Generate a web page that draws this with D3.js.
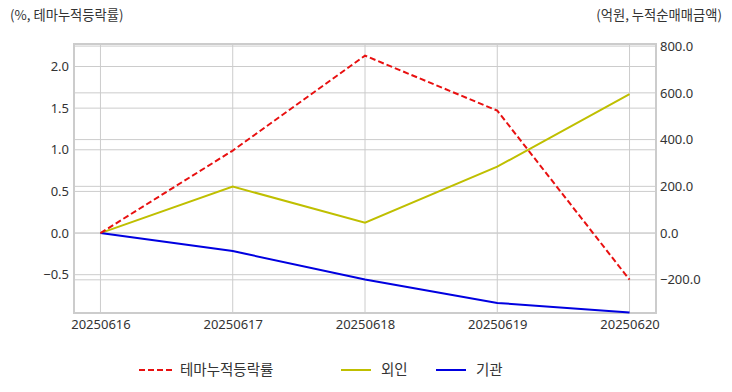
<!DOCTYPE html>
<html><head><meta charset="utf-8">
<script src="https://cdn.jsdelivr.net/npm/d3@7"></script>
<style>
body{margin:0;background:#fff;}
text{font-family:"Noto Sans CJK KR","Noto Sans",sans-serif;}
</style></head>
<body><svg id="c" width="732" height="392"></svg>
<script>
const dates = ["20250616","20250617","20250618","20250619","20250620"];
const themeRate = [0.0, 0.99, 2.13, 1.47, -0.56];
const foreign = [0, 199, 44, 284, 595];
const institution = [0, -77, -199, -299, -340];
const leftTicks = [-0.5, 0.0, 0.5, 1.0, 1.5, 2.0];
const rightTicks = [-200, 0, 200, 400, 600, 800];
const leftDomain = [-0.96, 2.27];
const rightDomain = [-342, 809];

const svg = d3.select("#c");
const L = 74, R = 656, T = 44, B = 313;
const x = d3.scalePoint().domain(dates).range([L, R]).padding(0.2);
const yL = d3.scaleLinear().domain(leftDomain).range([B, T]);
const yR = d3.scaleLinear().domain(rightDomain).range([B, T]);
const grid = "#cccccc", txt = "#333333";
const numFont = "'Noto Sans','DejaVu Sans',sans-serif";

// grids
const g = svg.append("g");
g.selectAll(".vl").data(dates).enter().append("line")
 .attr("x1", d=>x(d)).attr("x2", d=>x(d)).attr("y1", T).attr("y2", B)
 .attr("stroke", grid).attr("stroke-width", 1);
g.selectAll(".hl").data(leftTicks).enter().append("line")
 .attr("x1", L).attr("x2", R).attr("y1", d=>yL(d)).attr("y2", d=>yL(d))
 .attr("stroke", grid).attr("stroke-width", 1);
g.selectAll(".hr").data(rightTicks).enter().append("line")
 .attr("x1", L).attr("x2", R).attr("y1", d=>yR(d)).attr("y2", d=>yR(d))
 .attr("stroke", grid).attr("stroke-width", 1);

// axes
const ax = svg.append("g").attr("transform", `translate(0,${B})`)
 .call(d3.axisBottom(x).tickSize(0).tickPadding(4));
const al = svg.append("g").attr("transform", `translate(${L},0)`)
 .call(d3.axisLeft(yL).tickValues(leftTicks).tickFormat(d3.format(".1f")).tickSize(0).tickPadding(5));
const ar = svg.append("g").attr("transform", `translate(${R},0)`)
 .call(d3.axisRight(yR).tickValues(rightTicks).tickFormat(d3.format(".1f")).tickSize(0).tickPadding(4));
[ax, al, ar].forEach(a => {
  a.select(".domain").remove();
  a.selectAll("text").attr("fill", txt).style("font-size", "13px")
   .style("font-family", numFont);
});
ax.selectAll("text").attr("dy", "0.9em");

// frame
svg.append("rect").attr("x", L).attr("y", T).attr("width", R-L).attr("height", B-T)
 .attr("fill", "none").attr("stroke", grid).attr("stroke-width", 2);

// lines
const lineL = d3.line().x((d,i)=>x(dates[i])).y(d=>yL(d));
const lineR = d3.line().x((d,i)=>x(dates[i])).y(d=>yR(d));
svg.append("path").datum(foreign).attr("d", lineR).attr("fill","none")
 .attr("stroke","#bfbf00").attr("stroke-width",2);
svg.append("path").datum(institution).attr("d", lineR).attr("fill","none")
 .attr("stroke","#0000e0").attr("stroke-width",2);
svg.append("path").datum(themeRate).attr("d", lineL).attr("fill","none")
 .attr("stroke","#e81010").attr("stroke-width",2).attr("stroke-dasharray","6,3");

// titles
svg.append("text").attr("x", 10).attr("y", 20).text("(%, 테마누적등락률)")
 .attr("fill", txt).style("font-size","13.3px");
svg.append("text").attr("x", 722).attr("y", 20).attr("text-anchor","end").text("(억원, 누적순매매금액)")
 .attr("fill", txt).style("font-size","13.3px");

// legend
const legend = [
  {name:"테마누적등락률", color:"#e81010", dash:"6,3", x1:139, x2:175, tx:180},
  {name:"외인", color:"#bfbf00", dash:null, x1:341, x2:371, tx:381},
  {name:"기관", color:"#0000e0", dash:null, x1:436, x2:466, tx:476}
];
const lg = svg.append("g");
legend.forEach(d => {
  lg.append("line").attr("x1", d.x1).attr("x2", d.x2).attr("y1", 370).attr("y2", 370)
   .attr("stroke", d.color).attr("stroke-width", 2).attr("stroke-dasharray", d.dash);
  lg.append("text").attr("x", d.tx).attr("y", 370).attr("dy","0.35em").text(d.name)
   .attr("fill", txt).style("font-size","14.5px");
});
</script></body></html>
